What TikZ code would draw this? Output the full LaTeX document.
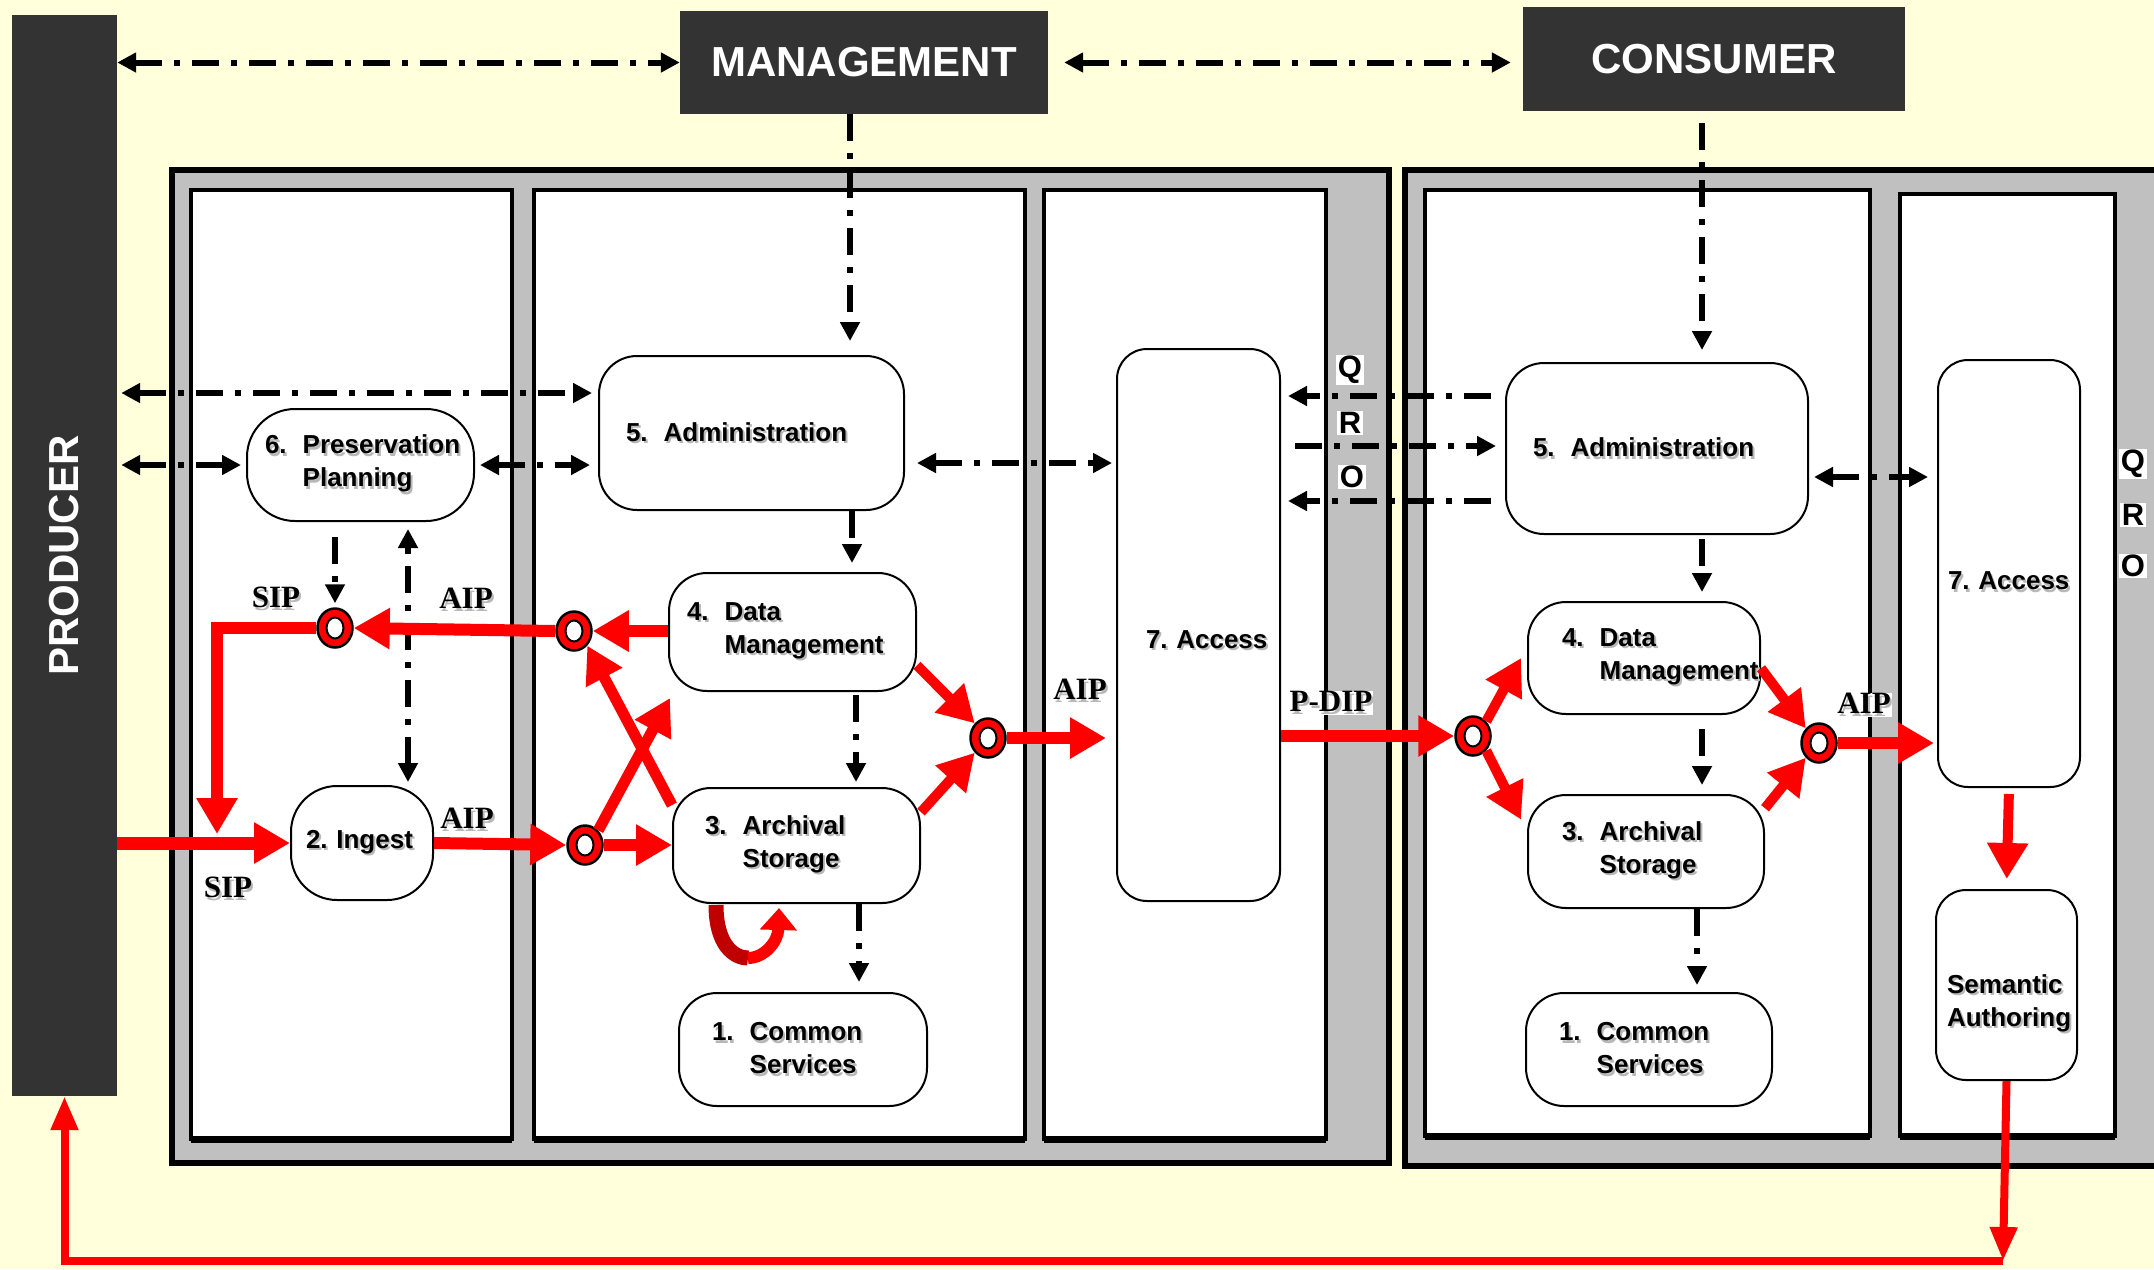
\documentclass[tikz,border=0pt]{standalone}
\usepackage{fontspec}
\setmainfont{Liberation Serif}
\setsansfont{Liberation Sans}
\usetikzlibrary{arrows.meta,shapes.geometric,calc}

\definecolor{paper}{HTML}{FFFFDC}
\definecolor{ink}{HTML}{333333}
\definecolor{gutter}{HTML}{C0C0C0}
\definecolor{flowred}{HTML}{FF0000}
\definecolor{deepred}{HTML}{C00000}

% hanging number in front of a function name
\newcommand\fnum[1]{\makebox[1.45em][l]{#1}}
% unbreakable text with a soft grey drop shadow
\newcommand\sh[1]{\makebox[0pt][l]{\hspace{2pt}\raisebox{-2.5pt}{\textcolor{black!28}{#1}}}\mbox{#1}}
% taller first line, pushes a label down inside its box
\newcommand\dropby[1]{\rule{0pt}{\dimexpr 19pt+#1*2\relax}}

\begin{document}
\frenchspacing
\begin{tikzpicture}[x=1pt,y=-1pt,
  title/.style={fill=ink, text=white, inner sep=0pt,
    font=\sffamily\bfseries\fontsize{42}{48}\selectfont},
  func/.style={draw=black, line width=2pt, fill=white, rounded corners=38pt,
    align=left, inner sep=0pt, font=\sffamily\bfseries\fontsize{26}{33}\selectfont\frenchspacing},
  ring/.style={ellipse, draw=black, line width=2.5pt, fill=flowred,
    minimum width=35pt, minimum height=39pt, inner sep=0pt,
    path picture={\fill[white,draw=black,line width=2pt]
      (path picture bounding box.center) ellipse [x radius=8.5pt, y radius=10.5pt];}},
  pkg/.style={font=\rmfamily\bfseries\fontsize{31}{36}\selectfont, inner sep=1pt},
  qro/.style={fill=white, inner sep=1.5pt, font=\sffamily\bfseries\fontsize{31}{33}\selectfont},
  ctrl/.style={draw=black, line width=6pt, dash pattern=on 27pt off 12pt on 6pt off 12pt},
  ctrlto/.style={ctrl, -{Triangle[width=19pt,length=19pt]}},
  ctrlboth/.style={ctrl, {Triangle[width=19pt,length=19pt]}-{Triangle[width=19pt,length=19pt]}},
  flow/.style={draw=flowred, line width=12pt, line join=miter,
    -{Triangle[width=39pt,length=36pt]}},
  thinflow/.style={draw=flowred, line width=8pt, line join=miter,
    -{Triangle[width=26pt,length=34pt]}},
  column/.style={draw=black, line width=3.5pt, fill=white},
]

\useasboundingbox (0,0) rectangle (2154,1269);
\fill[paper] (0,0) rectangle (2154,1269);

% archive frames
\filldraw[fill=gutter, draw=black, line width=6pt] (172,170) rectangle (1389,1163);
\filldraw[fill=gutter, draw=black, line width=6pt] (1405,170) rectangle (2200,1166);

% functional columns
\filldraw[column] (191,190) rectangle (512,1139);
\filldraw[column] (534,190) rectangle (1025,1139);
\filldraw[column] (1044,190) rectangle (1326,1139);
\filldraw[column] (1425,190) rectangle (1870,1136);
\filldraw[column] (1900,194) rectangle (2115,1136);
\foreach \a/\b/\y in {191/512/1139, 534/1025/1139, 1044/1326/1139, 1425/1870/1136, 1900/2115/1136}
  \draw[line width=7pt] (\a,\y) -- (\b,\y);

% external entities
\node[title, minimum width=105pt, minimum height=1081pt] (prod) at (64.5,555.5)
  {\rotatebox{90}{PRODUCER}};
\node[title, minimum width=368pt, minimum height=103pt] (mgmt) at (864,62.5) {MANAGEMENT};
\node[title, minimum width=382pt, minimum height=104pt] (cons) at (1714,59) {CONSUMER};

% functions of the first archive
\node[func, minimum width=227pt, minimum height=112pt, rounded corners=48pt, text width=191pt] (pp) at (360.5,465)
  {\sh{\fnum{6.}Preservation}\\\sh{\fnum{}Planning}};
\node[func, minimum width=305pt, minimum height=154pt, text width=251pt] (admL) at (751.5,433)
  {\sh{\fnum{5.}Administration}};
\node[func, minimum width=247pt, minimum height=118pt, text width=211pt] (dmL) at (792.5,632)
  {\sh{\fnum{4.}Data}\\\sh{\fnum{}Management}};
\node[func, minimum width=247pt, minimum height=115pt, text width=183pt] (asL) at (796.5,845.5)
  {\sh{\fnum{3.}Archival}\\\sh{\fnum{}Storage}};
\node[func, minimum width=142pt, minimum height=114pt, rounded corners=46pt, text width=112pt] (ing) at (362,843)
  {\sh{2. Ingest}};
\node[func, minimum width=248pt, minimum height=113pt, text width=182pt] (csL) at (803,1049.5)
  {\sh{\fnum{1.}Common}\\\sh{\fnum{}Services}};
\node[func, minimum width=163pt, minimum height=552pt, rounded corners=30pt, text width=105pt] (accL) at (1198.5,625)
  {\dropby{15pt}\sh{7. Access}};

% functions of the second archive
\node[func, minimum width=302pt, minimum height=171pt, text width=248pt] (admR) at (1657,448.5)
  {\sh{\fnum{5.}Administration}};
\node[func, minimum width=232pt, minimum height=112pt, text width=164pt] (dmR) at (1644,658)
  {\sh{\fnum{4.}Data}\\\sh{\fnum{}Management}};
\node[func, minimum width=236pt, minimum height=113pt, text width=168pt] (asR) at (1646,851.5)
  {\sh{\fnum{3.}Archival}\\\sh{\fnum{}Storage}};
\node[func, minimum width=246pt, minimum height=113pt, text width=180pt] (csR) at (1649,1049.5)
  {\sh{\fnum{1.}Common}\\\sh{\fnum{}Services}};
\node[func, minimum width=142pt, minimum height=427pt, rounded corners=30pt, text width=122pt] (accR) at (2009,573.5)
  {\dropby{8pt}\sh{7. Access}};
\node[func, minimum width=141pt, minimum height=190pt, rounded corners=30pt, text width=119pt] (sem) at (2006.5,985)
  {\dropby{19pt}\sh{Semantic}\\\sh{Authoring}};

% package junctions
\node[ring] (rA) at (335,628) {};
\node[ring] (rB) at (574,631) {};
\node[ring] (rC) at (585,845) {};
\node[ring] (rD) at (988,738) {};
\node[ring] (rE) at (1473,736) {};
\node[ring] (rF) at (1819,743) {};

% helper coordinates for connector rows and lanes
\coordinate (yP) at (0,393);
\coordinate (yAA) at (0,463);
\coordinate (yQ) at (0,396);
\coordinate (yR) at (0,446);
\coordinate (yO) at (0,501);
\coordinate (yRA) at (0,477);
\coordinate (xM) at (850,0);
\coordinate (xC) at (1702,0);
\coordinate (xL1) at (852,0);
\coordinate (xL2) at (856,0);
\coordinate (xL3) at (859,0);
\coordinate (xR3) at (1697,0);
\coordinate (xPP) at (335,0);
\coordinate (xPI) at (408,0);
\coordinate (sipdrop) at (217,834);
\coordinate (loop) at (2003,1261);

% control and information flows
\draw[ctrlboth] (prod.east |- mgmt.west) -- (mgmt.west);
\draw[ctrlboth, shorten <=16pt, shorten >=12pt] (mgmt.east) -- (cons.west |- mgmt.east);
\draw[ctrlto, shorten >=14pt] (mgmt.south -| xM) -- (admL.north -| xM);
\draw[ctrlto, shorten <=12pt, shorten >=12pt] (cons.south -| xC) -- (admR.north -| xC);
\draw[ctrlboth, shorten <=4pt, shorten >=6pt] (prod.east |- yP) -- (admL.west |- yP);
\draw[ctrlboth, shorten <=4pt, shorten >=5pt] (prod.east |- pp.west) -- (pp.west);
\draw[ctrlboth, shorten <=5pt, shorten >=8pt] (pp.east) -- (admL.west |- pp.east);
\draw[ctrlboth, shorten <=12pt, shorten >=4pt] (admL.east |- yAA) -- (accL.west |- yAA);
\draw[ctrlto, shorten >=9pt] (admL.south -| xL1) -- (dmL.north -| xL1);
\draw[ctrlto, shorten <=3pt, shorten >=5pt] (dmL.south -| xL2) -- (asL.north -| xL2);
\draw[ctrlto, shorten >=10pt] (asL.south -| xL3) -- (csL.north -| xL3);
\draw[ctrlto, shorten <=15pt, shorten >=4pt] (pp.south -| xPP) -- (rA.north);
\draw[ctrlboth, shorten <=3pt, shorten >=7pt] (ing.north -| xPI) -- (pp.south -| xPI);
\draw[ctrlto, shorten <=14pt, shorten >=7pt] (admR.west |- yQ) -- (accL.east |- yQ);
\draw[ctrlto, shorten <=14pt, shorten >=9pt] (accL.east |- yR) -- (admR.west |- yR);
\draw[ctrlto, shorten <=14pt, shorten >=7pt] (admR.west |- yO) -- (accL.east |- yO);
\draw[ctrlboth, shorten <=5pt, shorten >=9pt] (admR.east |- yRA) -- (accR.west |- yRA);
\draw[ctrlto, shorten <=4pt, shorten >=9pt] (admR.south -| xC) -- (dmR.north -| xC);
\draw[ctrlto, shorten <=14pt, shorten >=9pt] (dmR.south -| xC) -- (asR.north -| xC);
\draw[ctrlto, shorten >=7pt] (asR.south -| xR3) -- (csR.north -| xR3);

% package flows
\draw[flow, line width=13pt] (prod.east |- ing.west) -- (ing.west);
\draw[flow] (rA.west) -| (sipdrop);
\draw[flow] (rB.west) -- (rA.east);
\draw[flow] (dmL.west |- rB) -- (rB.east);
\draw[flow] (ing.east) -- (rC.west);
\draw[flow] (rC.east) -- (asL.west |- rC);
\draw[flow, line width=11pt] (rC.north east) -- ([xshift=2pt,yshift=-6pt]dmL.south west);
\draw[flow, line width=11pt] (asL.162) -- (rB.south east);
\draw[flow, line width=10pt] (dmL.-15) -- (rD.north west);
\draw[flow, line width=10pt] (asL.15) -- (rD.south west);
\draw[flow] (rD.east) -- ([xshift=-10pt]accL.west |- rD);
\draw[flow] (accL.east |- rE) -- (rE.west);
\draw[flow, line width=10pt] (rE.north east) -- ([xshift=-6pt]dmR.west);
\draw[flow, line width=10pt] (rE.south east) -- ([xshift=-6pt]asR.165);
\draw[flow, line width=10pt] (dmR.-5) -- (rF.north west);
\draw[flow, line width=10pt] (asR.20) -- (rF.south west);
\draw[flow] (rF.east) -- ([xshift=-3pt]accR.west |- rF);
\draw[flow, line width=10pt, shorten <=6pt, shorten >=10pt] (accR.south) -- (sem.north);
\draw[thinflow] (sem.south) -- (loop);
\draw[thinflow] (loop) -| (prod.south);

% storage refresh loop under Archival Storage
\draw[deepred, line width=15pt] (716,905) .. controls (716,945) and (734,958) .. (748,958);
\draw[flowred, line width=12pt, -{Triangle[width=36pt,length=22pt]}]
  (748,958) .. controls (764,958) and (778,942) .. (779,908);

% package labels
\node[pkg] at (276,599) {\sh{SIP}};
\node[pkg] at (466,600) {\sh{AIP}};
\node[pkg] at (467,820) {\sh{AIP}};
\node[pkg] at (228,889) {\sh{SIP}};
\node[pkg] at (1080,691) {\sh{AIP}};
\node[pkg, fill=white] at (1331,703) {\sh{P-DIP}};
\node[pkg, fill=white] at (1864,705) {\sh{AIP}};

% query, result and order labels
\node[qro] at (1350,370) {Q};
\node[qro] at (1350,423) {R};
\node[qro] at (1352,477) {O};
\node[qro] at (2133,464) {Q};
\node[qro] at (2133,515) {R};
\node[qro] at (2133,566) {O};

\end{tikzpicture}
\end{document}
